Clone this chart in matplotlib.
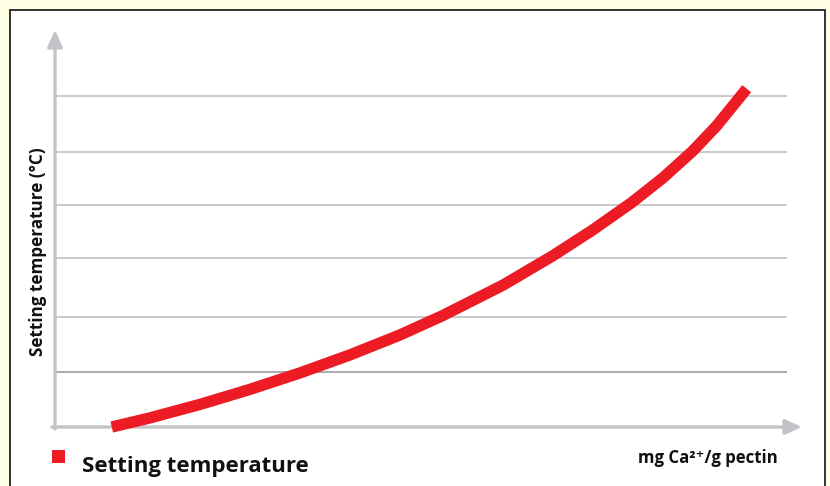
import matplotlib
matplotlib.use("Agg")
import matplotlib.pyplot as plt
from matplotlib.patches import Rectangle

# values (arbitrary units: x 0-10, y 0-80)
ca_per_pectin = [0.76, 1.27, 1.94, 2.61, 3.28, 3.95, 4.62, 5.19, 6.00, 6.67,
                 7.20, 7.72, 8.14, 8.54, 8.86, 9.26]
setting_temp = [0.0, 1.83, 4.55, 7.58, 10.90, 14.53, 18.56, 22.45, 28.61,
                34.56, 39.72, 45.22, 50.22, 55.66, 60.74, 68.17]
grid_levels = [11.1, 22.2, 34.1, 44.7, 55.4, 66.7]

series_label = "Setting temperature"
x_label = "mg Ca²⁺/g pectin"
y_label = "Setting temperature (°C)"

RED = "#ED1C24"
AXIS_GREY = "#C3C3C7"
GRID_GREY = "#CACACA"

plt.rcParams["font.family"] = ["Open Sans", "DejaVu Sans"]

W, H = 830, 486
fig = plt.figure(figsize=(W / 100, H / 100), dpi=100)
fig.patch.set_facecolor("#FFFFE3")

# white panel with dark frame
panel = Rectangle((10 / W, -0.05), 815 / W, 1 - 10 / H + 0.05,
                  transform=fig.transFigure, facecolor="white",
                  edgecolor="#222222", linewidth=1.3, zorder=-10)
fig.patches.append(panel)

ax = fig.add_axes([55 / W, 1 - 427 / H, (802 - 55) / W, (427 - 30) / H])
ax.set_zorder(5)
ax.set_xlim(0, 10)
ax.set_ylim(0, 80)
ax.axis("off")

x_grid_end = (787 - 55) / 74.7
for i, level in enumerate(grid_levels):
    ax.hlines(level, 0, x_grid_end, color="#ABABAB" if i == 0 else GRID_GREY,
              linewidth=1.4, zorder=1)

# axes drawn as arrows
arrow_style = dict(arrowstyle="-|>,head_length=1.0,head_width=0.45",
                   color=AXIS_GREY, linewidth=2.4, shrinkA=0, shrinkB=0)
ax.annotate("", xy=(0, 1), xytext=(0, -0.005), xycoords="axes fraction",
            arrowprops=arrow_style, zorder=2)
ax.annotate("", xy=(1, 0), xytext=(-0.004, 0), xycoords="axes fraction",
            arrowprops=arrow_style, zorder=2)

ax.plot(ca_per_pectin, setting_temp, color=RED, linewidth=8.2,
        solid_capstyle="butt", solid_joinstyle="round", zorder=3,
        clip_on=False)

# labels
fig.text(38 / W, 1 - 252 / H, y_label, rotation=90, ha="center", va="center",
         fontsize=12.3, fontweight="bold", color="#111111")
fig.text(708 / W, 1 - 458 / H, x_label, ha="center", va="center",
         fontsize=12.1, fontweight="bold", color="#111111")

# legend
fig.patches.append(Rectangle((52 / W, 1 - 463 / H), 13 / W, 13 / H,
                             transform=fig.transFigure, facecolor=RED,
                             edgecolor="none", zorder=2))
fig.text(82 / W, 1 - 466 / H, series_label, ha="left", va="center",
         fontsize=16, fontweight="bold", color="#111111")

fig.savefig("out.png", dpi=100, facecolor=fig.get_facecolor())
